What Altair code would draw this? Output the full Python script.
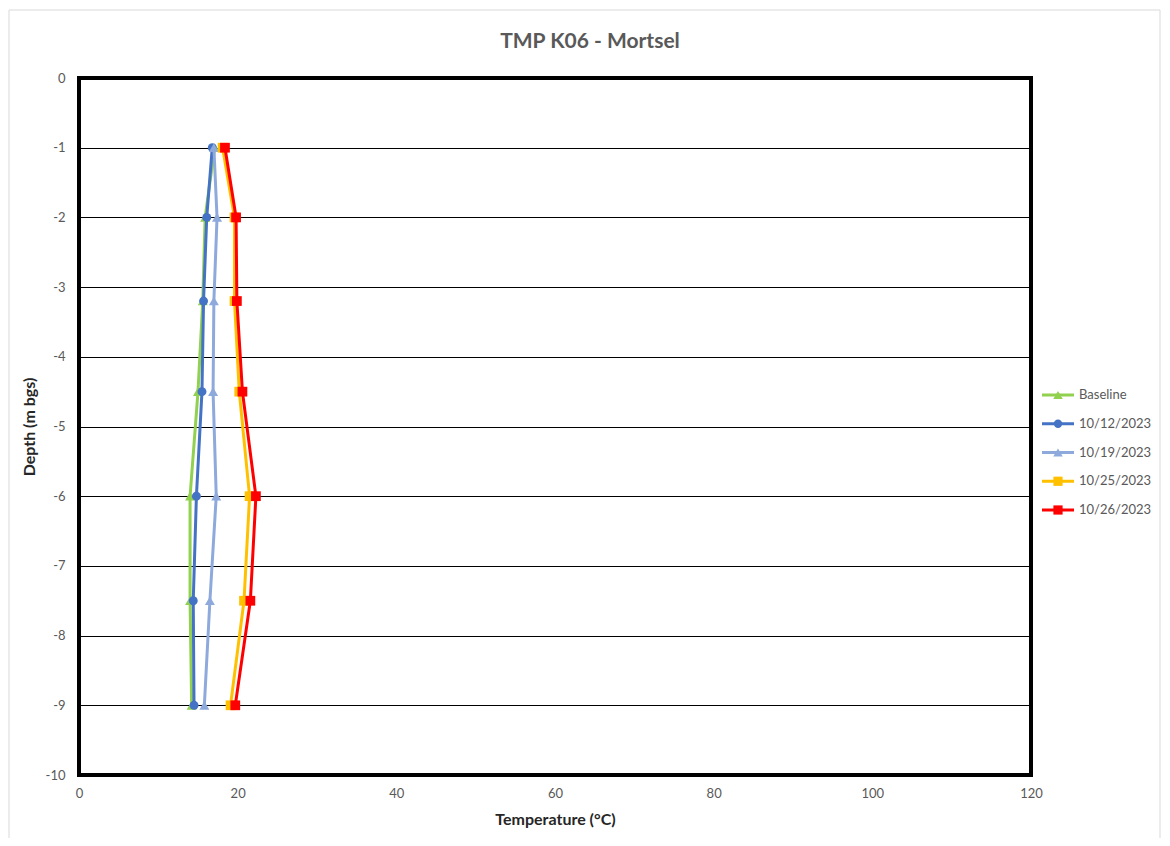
import altair as alt
import pandas as pd

depths = [-1, -2, -3.2, -4.5, -6, -7.5, -9]
series_names = ["Baseline", "10/12/2023", "10/19/2023", "10/25/2023", "10/26/2023"]
baseline = [17.1, 15.9, 15.6, 15.0, 14.0, 14.0, 14.2]
d_1012 = [16.8, 16.1, 15.7, 15.5, 14.8, 14.4, 14.5]
d_1019 = [17.0, 17.4, 17.0, 16.9, 17.3, 16.5, 15.8]
d_1025 = [18.1, 19.6, 19.6, 20.2, 21.5, 20.8, 19.1]
d_1026 = [18.4, 19.8, 19.9, 20.6, 22.3, 21.6, 19.7]
series_values = [baseline, d_1012, d_1019, d_1025, d_1026]
colors = ["#92D050", "#4472C4", "#8EA9DB", "#FFC000", "#FF0000"]
shapes = ["triangle-up", "circle", "triangle-up", "square", "square"]
sizes = [100, 80, 100, 95, 95]
x_ticks = [0, 20, 40, 60, 80, 100, 120]
y_ticks = [0, -1, -2, -3, -4, -5, -6, -7, -8, -9, -10]
chart_title = "TMP K06 - Mortsel"

FONT = "Lato"
W, H = 952, 697

rows = []
for name, vals in zip(series_names, series_values):
    for i, (d, v) in enumerate(zip(depths, vals)):
        rows.append({"series": name, "depth": d, "temp": v, "idx": i})
df = pd.DataFrame(rows)

x_scale = alt.Scale(domain=[0, 120])
y_scale = alt.Scale(domain=[-10, 0])

def x_enc(show):
    if show:
        return alt.X("temp:Q", scale=x_scale,
                     axis=alt.Axis(values=x_ticks, title="Temperature (°C)", grid=False,
                                   domain=False, ticks=False, labelPadding=12, labelFlush=False,
                                   labelFontSize=13, labelColor="#595959", labelFont=FONT,
                                   titleFont=FONT, titleFontSize=16, titleFontWeight="bold",
                                   titleColor="#262626", titlePadding=11))
    return alt.X("temp:Q", scale=x_scale)

def y_enc(show):
    if show:
        return alt.Y("depth:Q", scale=y_scale,
                     axis=alt.Axis(values=y_ticks, title="Depth (m bgs)", grid=True,
                                   gridColor="black", gridWidth=1, gridOpacity=1,
                                   domain=False, ticks=False, labelPadding=14, labelFlush=False,
                                   labelExpr="'' + datum.value",
                                   labelFontSize=13, labelColor="#595959", labelFont=FONT,
                                   titleFont=FONT, titleFontSize=16, titleFontWeight="bold",
                                   titleColor="#262626", titlePadding=8))
    return alt.Y("depth:Q", scale=y_scale)

base = alt.Chart(df)
layers = []
one = pd.DataFrame({"a": [0]})

# outer chart frame (decoration)
frame = alt.Chart(one).mark_rect(
    fill="transparent", stroke="#d9d9d9", strokeWidth=1
).encode(x=alt.value(-70), x2=alt.value(W + 129), y=alt.value(-68), y2=alt.value(H + 90))
layers.append(frame)

# chart title
layers.append(alt.Chart(one).mark_text(
    text=chart_title, font=FONT, fontSize=21, fontWeight="bold", color="#595959",
    align="center", baseline="alphabetic"
).encode(x=alt.value(W / 2 + 35), y=alt.value(-30)))

for k, name in enumerate(series_names):
    show = k == 0
    sub = base.transform_filter(alt.datum.series == name)
    line = sub.mark_line(color=colors[k], strokeWidth=3).encode(
        x=x_enc(show), y=y_enc(show), order="idx:Q")
    pts = sub.mark_point(color=colors[k], filled=True, opacity=1, shape=shapes[k],
                         size=sizes[k]).encode(x=x_enc(False), y=y_enc(False))
    layers += [line, pts]

# legend (manual, line + marker symbols)
LEG_Y0, LEG_DY = 317, 28.75
for k, name in enumerate(series_names):
    yy = LEG_Y0 + LEG_DY * k
    lb = alt.Chart(one)
    layers.append(lb.mark_rule(color=colors[k], strokeWidth=3).encode(
        x=alt.value(963), x2=alt.value(995), y=alt.value(yy)))
    layers.append(lb.mark_point(color=colors[k], filled=True, opacity=1, shape=shapes[k],
                                size=sizes[k] - 10).encode(x=alt.value(979), y=alt.value(yy)))
    layers.append(lb.mark_text(text=name, align="left", baseline="middle", font=FONT,
                               fontSize=13, color="#595959").encode(
        x=alt.value(1000), y=alt.value(yy)))

chart = alt.layer(*layers).properties(
    width=W, height=H,
    autosize=alt.AutoSizeParams(type="none"),
    padding={"left": 71, "top": 70, "right": 131, "bottom": 63},
).configure(background="white").configure_view(stroke="black", strokeWidth=4)

chart.save("out.html", embed_options={"renderer": "svg", "actions": False})
